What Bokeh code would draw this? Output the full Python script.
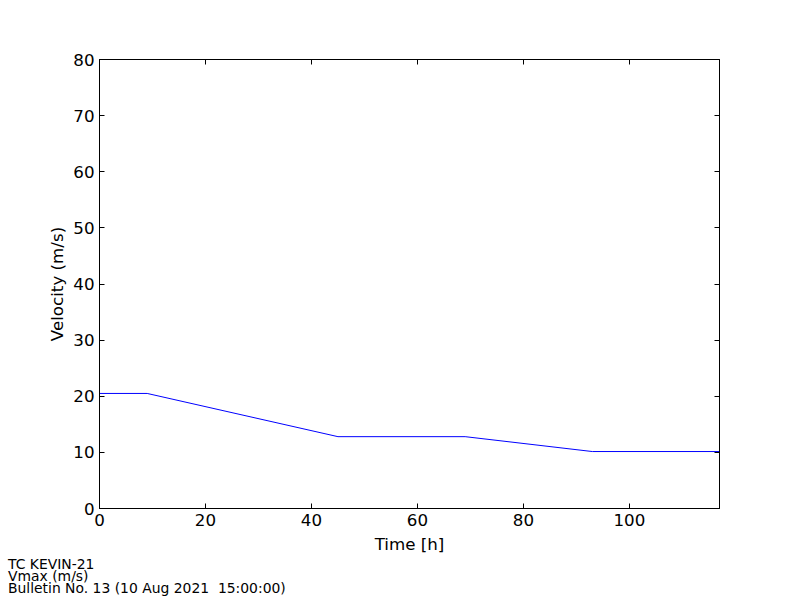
from bokeh.plotting import figure
from bokeh.models import Range1d, LinearAxis, FixedTicker, Div
from bokeh.layouts import column
from bokeh.embed import file_html
from bokeh.resources import INLINE
import html

# data
time_h = [0, 9, 45, 69, 93, 117]
vmax_ms = [20.5, 20.5, 12.8, 12.8, 10.15, 10.15]
x_ticks = [0, 20, 40, 60, 80, 100]
y_ticks = [0, 10, 20, 30, 40, 50, 60, 70, 80]
footer_lines = ["TC KEVIN-21", "Vmax (m/s)", "Bulletin No. 13 (10 Aug 2021  15:00:00)"]

FONT = "DejaVu Sans"
FS = "16.7px"

MAIN_H = 556
p = figure(width=800, height=MAIN_H, output_backend="svg", toolbar_location=None,
           x_range=Range1d(0, 117), y_range=Range1d(0, 80),
           min_border_left=99, min_border_right=81, min_border_top=59,
           min_border_bottom=MAIN_H - 509,
           x_axis_label="Time [h]", y_axis_label="Velocity (m/s)")
p.grid.visible = False
p.outline_line_color = "black"
p.outline_line_alpha = 1.0
p.background_fill_color = "white"
p.border_fill_color = "white"

p.line(time_h, vmax_ms, line_color="#0000ff", line_width=1)

p.add_layout(LinearAxis(), "right")
p.add_layout(LinearAxis(), "above")

for ax in p.xaxis:
    ax.ticker = FixedTicker(ticks=x_ticks)
for ax in p.yaxis:
    ax.ticker = FixedTicker(ticks=y_ticks)

for ax in p.axis:
    ax.major_tick_in = 5
    ax.major_tick_out = 0
    ax.minor_tick_line_color = None
    ax.axis_line_color = "black"
    ax.major_tick_line_color = "black"
    ax.major_label_text_font = FONT
    ax.major_label_text_font_size = FS
    ax.major_label_text_color = "black"
    ax.axis_label_text_font = FONT
    ax.axis_label_text_font_size = FS
    ax.axis_label_text_font_style = "normal"
    ax.axis_label_text_color = "black"

p.xaxis[0].major_label_standoff = 3
p.xaxis[0].axis_label_standoff = 2
p.yaxis[0].major_label_standoff = 5
p.yaxis[0].axis_label_standoff = 3

# hide labels on right/top axes
for ax in p.right + p.above:
    if isinstance(ax, LinearAxis):
        ax.major_label_text_font_size = "0px"
        ax.major_label_text_color = None

# footer text block below the plot
FOOT_H = 600 - MAIN_H
lines_html = "".join(
    f'<div style="height:12px;line-height:12px;white-space:pre;">{html.escape(t)}</div>'
    for t in footer_lines)
footer = Div(
    text=(f'<div style="font-family:\'DejaVu Sans\';font-size:13.9px;color:black;'
          f'padding:2px 0 0 8px;margin:0;">{lines_html}</div>'),
    width=800, height=FOOT_H, margin=0)

layout = column(p, footer, spacing=0)
open("out.html", "w").write(file_html(layout, INLINE))
